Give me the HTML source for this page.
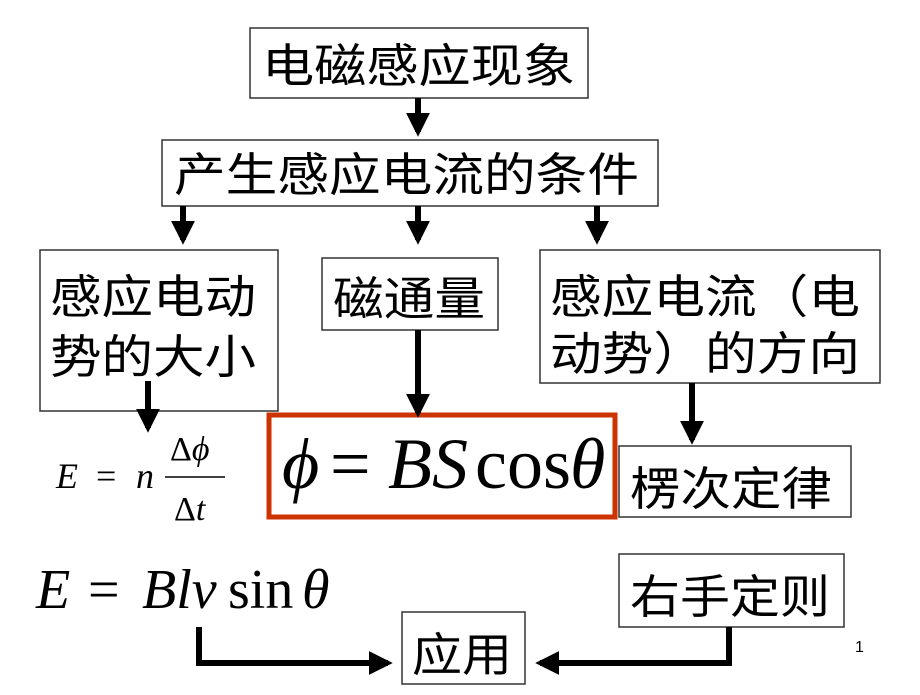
<!DOCTYPE html>
<html><head><meta charset="utf-8"><style>
body{margin:0;background:#fff;}
svg text{font-family:"Liberation Sans","Noto Sans CJK SC",sans-serif;}
svg .m text{font-family:"Liberation Serif","DejaVu Serif",serif;}
</style></head><body>
<svg width="920" height="690" viewBox="0 0 920 690" xmlns="http://www.w3.org/2000/svg">
<defs>
<marker id="a" markerWidth="4" markerHeight="4" refX="3.2" refY="2" orient="auto" markerUnits="strokeWidth"><path d="M0,0 L4,2 L0,4z" fill="#000"/></marker>
</defs>
<g fill="#fff" stroke="#333" stroke-width="1.5">
<rect x="250" y="28" width="338" height="70"/>
<rect x="162" y="140" width="496" height="66"/>
<rect x="40" y="250" width="238" height="161"/>
<rect x="322" y="258" width="176" height="72"/>
<rect x="540" y="250" width="340" height="133"/>
<rect x="619" y="446" width="232" height="71"/>
<rect x="619" y="554" width="225" height="73"/>
<rect x="402" y="612" width="123" height="72"/>
</g>
<rect x="269" y="415" width="346" height="102" fill="none" stroke="#cc3300" stroke-width="5"/>
<g stroke="#000" stroke-width="6" fill="none" marker-end="url(#a)">
<line x1="418" y1="98" x2="418" y2="132"/>
<line x1="183" y1="206" x2="183" y2="240"/>
<line x1="418" y1="206" x2="418" y2="240"/>
<line x1="597" y1="206" x2="597" y2="240"/>
<line x1="148" y1="381" x2="148" y2="428"/>
<line x1="418" y1="330" x2="418" y2="413"/>
<line x1="692" y1="383" x2="692" y2="440"/>
<polyline points="199,627 199,663 388,663"/>
<polyline points="729,627 729,663 540,663"/>
</g>
<g font-size="46" fill="#000">
<text x="262" y="82" textLength="313" lengthAdjust="spacingAndGlyphs">电磁感应现象</text>
<text x="174" y="191" textLength="465" lengthAdjust="spacingAndGlyphs">产生感应电流的条件</text>
<text x="50" y="313" textLength="206" lengthAdjust="spacingAndGlyphs">感应电动</text>
<text x="50" y="373" textLength="206" lengthAdjust="spacingAndGlyphs">势的大小</text>
<text x="333" y="315" textLength="152" lengthAdjust="spacingAndGlyphs">磁通量</text>
<text x="550" y="313" textLength="310" lengthAdjust="spacingAndGlyphs">感应电流（电</text>
<text x="550" y="370" textLength="310" lengthAdjust="spacingAndGlyphs">动势）的方向</text>
<text x="630" y="505" textLength="202" lengthAdjust="spacingAndGlyphs">楞次定律</text>
<text x="630" y="613" textLength="200" lengthAdjust="spacingAndGlyphs">右手定则</text>
<text x="412" y="671" textLength="100" lengthAdjust="spacingAndGlyphs">应用</text>
</g>
<text x="855" y="652" font-size="16">1</text>
<g class="m" fill="#000">
<text x="56" y="488" font-size="36" font-style="italic">E</text>
<text x="96" y="488" font-size="36">=</text>
<text x="136" y="488" font-size="36" font-style="italic">n</text>
<line x1="165" y1="477" x2="225" y2="477" stroke="#000" stroke-width="1.5"/>
<text x="170" y="460" font-size="34">Δ<tspan font-style="italic">ϕ</tspan></text>
<text x="174" y="520" font-size="34">Δ<tspan font-style="italic">t</tspan></text>
<text x="282" y="488" font-size="72" font-style="italic">ϕ</text>
<text x="330" y="488" font-size="72">=</text>
<text x="388" y="488" font-size="72" font-style="italic">BS</text>
<text x="475" y="488" font-size="72">cos</text>
<text x="570" y="488" font-size="72" font-style="italic">θ</text>
<text x="36" y="608" font-size="56" font-style="italic">E</text>
<text x="88" y="608" font-size="56">=</text>
<text x="142" y="608" font-size="56" font-style="italic">Blv</text>
<text x="228" y="608" font-size="56">sin</text>
<text x="302" y="608" font-size="56" font-style="italic">θ</text>
</g>
</svg>
</body></html>
